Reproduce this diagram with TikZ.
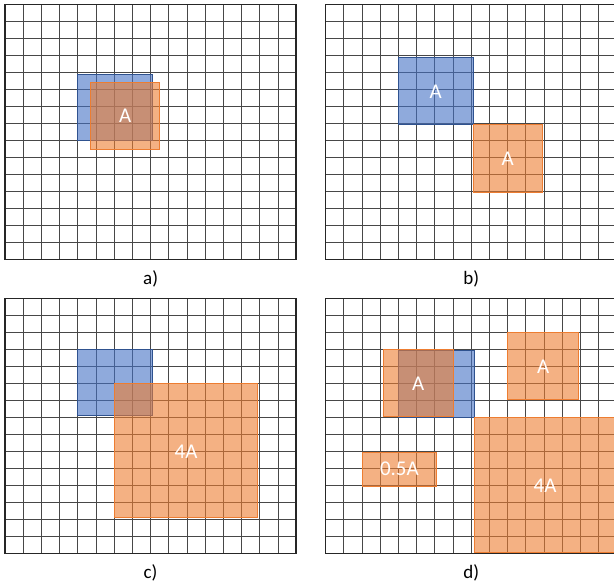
\documentclass[tikz,border=0pt]{standalone}
\usepackage{fontspec}
\setmainfont{Carlito}
\usetikzlibrary{positioning}
\definecolor{shapeblue}{HTML}{4472C4}
\definecolor{shapeblueline}{HTML}{2F528F}
\definecolor{shapeorange}{HTML}{ED7D31}
% 16 x 15 cell grid of one panel
\newcommand{\cellgrid}{%
  \foreach \gx in {0,...,16} \draw[gridline] (\gx,0) -- (\gx,15);
  \foreach \gy in {0,...,15} \draw[gridline] (0,\gy) -- (16,\gy);
  \draw[gridframe] (0,0) rectangle (16,15);}

\begin{document}
\begin{tikzpicture}[x=1pt, y=-1pt,
  gridline/.style={draw=black!72, line width=0.9pt},
  gridframe/.style={draw=black!85, line width=1.5pt},
  bluebox/.style={draw=shapeblueline, line width=1pt, fill=shapeblue, fill opacity=0.6},
  orangebox/.style={draw=shapeorange, line width=1pt, fill=shapeorange, fill opacity=0.6},
  boxtext/.style={text=white, font=\fontsize{21}{24}\selectfont, inner sep=0pt},
  panelcap/.style={font=\fontsize{19}{22}\selectfont, inner sep=0pt}]
  \useasboundingbox (0,0) rectangle (614,585);

  % a) same area, shifted a little
  \begin{scope}[shift={(5,4.7)}, x=18.2pt, y=-17pt]
    \cellgrid
    \draw[bluebox] (4,4.1) rectangle (8.1,8);
    \draw[orangebox] (4.7,4.55) rectangle (8.5,8.5);
    \node[boxtext] (aA) at (6.6,6.55) {A};
    \node[panelcap] (capa) at (8,16.15) {a)};
  \end{scope}

  % b) same area, moved away
  \begin{scope}[shift={(325.7,4.7)}, x=18.2pt, y=-17pt]
    \cellgrid
    \draw[bluebox] (4,3.1) rectangle (8.1,7.05);
    \draw[orangebox] (8.1,7.05) rectangle (11.9,11.05);
    \node[boxtext] (bA1) at (6.05,5.1) {A};
    \node[boxtext] (bA2) at (10,9.05) {A};
    \node[panelcap] (capb) at (8,16.15) {b)};
  \end{scope}

  % c) four times the area
  \begin{scope}[shift={(5,298.3)}, x=18.2pt, y=-17pt]
    \cellgrid
    \draw[bluebox] (4,3) rectangle (8.1,6.9);
    \draw[orangebox] (6,5) rectangle (13.9,12.9);
    \node[boxtext] (c4A) at (9.95,9) {4A};
    \node[panelcap] (capc) at (8,16.15) {c)};
  \end{scope}

  % d) several boxes
  \begin{scope}[shift={(325.7,298.3)}, x=18.2pt, y=-17pt]
    \cellgrid
    \draw[bluebox] (4,3.1) rectangle (8.15,7);
    \draw[orangebox] (3.15,3) rectangle (7,6.95);
    \draw[orangebox] (10,2) rectangle (13.9,5.93);
    \draw[orangebox] (2,9.05) rectangle (6.1,11.05);
    \draw[orangebox] (8.15,7) rectangle (16,14.95);
    \node[boxtext] (dA1) at (5.08,5.05) {A};
    \node[boxtext] (dA2) at (11.95,4) {A};
    \node[boxtext] (dhalf) at (4.05,10.05) {0.5A};
    \node[boxtext] (d4A) at (12.05,11) {4A};
    \node[panelcap] (capd) at (8,16.15) {d)};
  \end{scope}
\end{tikzpicture}
\end{document}
